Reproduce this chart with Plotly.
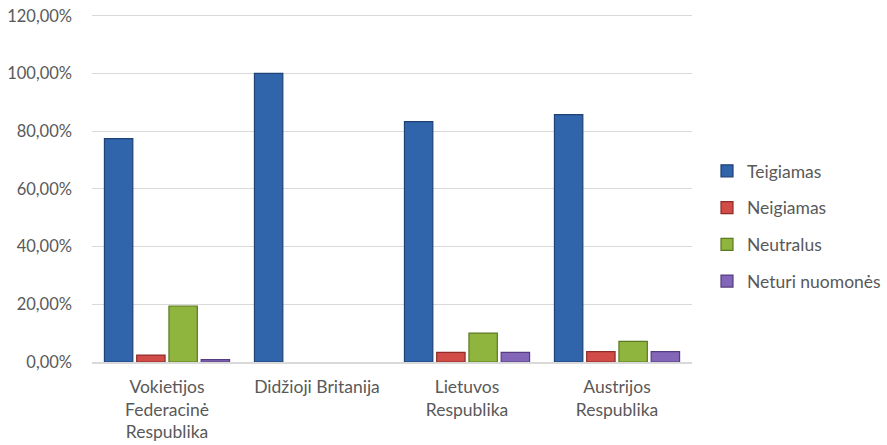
import plotly.graph_objects as go

categories = ["Vokietijos<br>Federacinė<br>Respublika", "Didžioji Britanija",
              "Lietuvos<br>Respublika", "Austrijos<br>Respublika"]
teigiamas = [0.774, 1.0, 0.8333, 0.8571]
neigiamas = [0.024, 0.0, 0.0333, 0.0357]
neutralus = [0.194, 0.0, 0.10, 0.0714]
neturi = [0.008, 0.0, 0.0333, 0.0357]
series_names = ["Teigiamas", "Neigiamas", "Neutralus", "Neturi nuomonės"]
y_ticks = [0, 0.2, 0.4, 0.6, 0.8, 1.0, 1.2]

fills = ["#3065AC", "#D14B47", "#8FB53E", "#8466B8"]
edges = ["#1F4275", "#8E2C2A", "#5A7A22", "#553C7E"]

fig = go.Figure()
for i, (name, vals) in enumerate(zip(series_names, [teigiamas, neigiamas, neutralus, neturi])):
    fig.add_trace(go.Bar(
        x=categories, y=vals, name=name,
        marker=dict(color=fills[i],
                    line=dict(color=edges[i], width=[0 if v == 0 else 1.2 for v in vals])),
        legendgroup=str(i),
    ))

fig.update_layout(
    width=887, height=445,
    margin=dict(l=92, r=195, t=14, b=83, autoexpand=False),
    paper_bgcolor="white", plot_bgcolor="white",
    barmode="group", bargap=0.14, bargroupgap=0.12,
    separators=", ",
    font=dict(family="Lato, Open Sans, sans-serif", size=17, color="#595959"),
    showlegend=True,
    legend=dict(x=1.025, y=0.391, xanchor="left", yanchor="middle",
                traceorder="grouped", tracegroupgap=11,
                font=dict(size=17.5, color="#595959")),
    yaxis=dict(range=[0, 1.206], tickvals=y_ticks, tickformat=".2%",
               gridcolor="#D9D9D9", gridwidth=1, zeroline=False,
               showline=False, ticks="", ticklen=0, automargin=False,
               ticklabelstandoff=19, tickfont=dict(size=16.5)),
    xaxis=dict(showline=True, linecolor="#D9D9D9", linewidth=1.5,
               ticks="", showgrid=False, automargin=False,
               ticklabelstandoff=8, tickfont=dict(size=17.5)),
)

fig.write_html("out.html", config={"displayModeBar": False},
               post_script="document.body.style.margin='0px';document.body.style.overflow='hidden';")
